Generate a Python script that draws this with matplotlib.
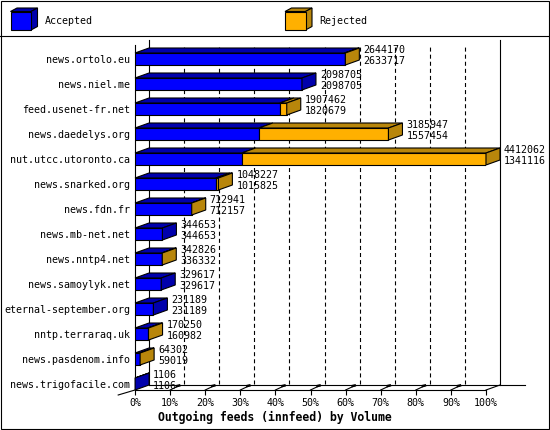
import numpy as np
import matplotlib
matplotlib.use('Agg')
import matplotlib.pyplot as plt
from matplotlib.patches import Polygon, Rectangle

plt.rcParams['font.family'] = ['DejaVu Sans Mono', 'DejaVu Sans']
plt.rcParams['lines.scale_dashes'] = False

# innfeed outgoing volume per peer
names = ['news.ortolo.eu', 'news.niel.me', 'feed.usenet-fr.net', 'news.daedelys.org',
         'nut.utcc.utoronto.ca', 'news.snarked.org', 'news.fdn.fr', 'news.mb-net.net',
         'news.nntp4.net', 'news.samoylyk.net', 'eternal-september.org',
         'nntp.terraraq.uk', 'news.pasdenom.info', 'news.trigofacile.com']
offered = [2644170, 2098705, 1907462, 3185947, 4412062, 1048227, 712941,
           344653, 342826, 329617, 231189, 170250, 64302, 1106]
accepted = [2633717, 2098705, 1820679, 1557454, 1341116, 1015825, 712157,
            344653, 336332, 329617, 231189, 160982, 59019, 1106]
tick_vals = list(range(0, 101, 10))
tick_labels = ['%d%%' % v for v in tick_vals]

BLUE, BLUE_D = '#0000FF', '#0000AC'
ORANGE, ORANGE_D = '#FFB000', '#B8860B'
FS = 7.2

W, H = 550, 430
fig = plt.figure(figsize=(W / 100, H / 100), dpi=100)
fig.set_facecolor('w')

# background layer in pixel units: frame, legend, separator
bg = fig.add_axes([0, 0, 1, 1], zorder=0)
bg.set_xlim(0, W)
bg.set_ylim(H, 0)
bg.axis('off')
bg.add_patch(Rectangle((0.5, 0.5), W - 1.5, H - 1.5, fill=False, lw=0.8, ec='k'))
bg.plot([0, W], [35.5, 35.5], color='k', lw=0.8)


def cube(x, y, w, h, d, e, front, shade):
    bg.add_patch(Polygon([(x, y), (x + w, y), (x + w + d, y - e), (x + d, y - e)],
                         closed=True, fc=shade, ec='k', lw=0.8))
    bg.add_patch(Polygon([(x + w, y), (x + w + d, y - e), (x + w + d, y + h - e), (x + w, y + h)],
                         closed=True, fc=shade, ec='k', lw=0.8))
    bg.add_patch(Rectangle((x, y), w, h, fc=front, ec='k', lw=0.8))


cube(10.5, 11.5, 20.5, 18.5, 6.5, 3.5, BLUE, BLUE_D)
bg.text(44.5, 21, 'Accepted', fontsize=FS, va='center', ha='left')
cube(285, 11.5, 20.5, 18.5, 6.5, 3.5, ORANGE, ORANGE_D)
bg.text(319, 21, 'Rejected', fontsize=FS, va='center', ha='left')

# main axes = front plane
ax = fig.add_axes([135 / W, (H - 390) / H, 351 / W, 345 / H], zorder=1)
ax.set_facecolor('none')
rows = np.arange(len(names))
YB, YT = 13.24, -0.56
ax.set_xlim(0, 100)
ax.set_ylim(YB, YT)

total = max(offered)
acc = np.array(accepted) / total * 100
off = np.array(offered) / total * 100
rej = off - acc

DX = 14 / (351 / 100)   # depth in % units
DY = 5 / 25             # depth in row units
HH = 0.24               # half height of bar front

# back plane
ax.plot([DX, DX], [YT - DY, YB - DY], color='k', lw=0.8, clip_on=False, zorder=1)
ax.plot([100 + DX, 100 + DX], [YT - DY, YB - DY], color='k', lw=0.8, clip_on=False, zorder=1)
ax.plot([DX, 111], [YB - DY, YB - DY], color='k', lw=0.8, clip_on=False, zorder=1)
ax.plot([100, 100 + DX], [YB, YB - DY], color='k', lw=0.8, clip_on=False, zorder=1)
ax.plot([0, -1.2 * DX], [YB, YB + DY], color='k', lw=0.8, clip_on=False, zorder=1)
for v in tick_vals[1:-1]:
    ax.plot([v + DX, v + DX], [YT - DY, YB - DY], color='k', lw=0.8,
            ls=(0, (2.9, 2.2)), zorder=1)
    ax.plot([v, v + 0.6 * DX], [YB, YB - 0.8 * DY], color='k', lw=0.8, clip_on=False, zorder=1)
    ax.plot([v + 0.5 * DX, v + 0.65 * DX], [YB - 0.8 * DY, YB - 0.9 * DY], color='k',
            lw=1.8, clip_on=False, zorder=1)

# bars: front faces
ax.barh(rows, acc, height=2 * HH, left=0, color=BLUE, edgecolor='k', lw=0.8, zorder=3)
m = rej > 0
ax.barh(rows[m], rej[m], height=2 * HH, left=acc[m], color=ORANGE, edgecolor='k',
        lw=0.8, zorder=3)

# top and side faces
for r, a, o in zip(rows, acc, off):
    top = r - HH
    segs = [(0, a, BLUE_D)]
    if o > a:
        segs.append((a, o, ORANGE_D))
    for x0, x1, c in segs:
        ax.add_patch(Polygon([(x0, top), (x1, top), (x1 + DX, top - DY), (x0 + DX, top - DY)],
                             closed=True, fc=c, ec='k', lw=0.8, zorder=3, clip_on=False))
    side = segs[-1][2]
    ax.add_patch(Polygon([(o, r + HH), (o, top), (o + DX, top - DY), (o + DX, r + HH - DY)],
                         closed=True, fc=side, ec='k', lw=0.8, zorder=3, clip_on=False))
    ax.text(o + DX + 1.14, r - 0.36, str(offered[r]), fontsize=FS, va='center', ha='left', zorder=4)
    ax.text(o + DX + 1.14, r + 0.07, str(accepted[r]), fontsize=FS, va='center', ha='left', zorder=4)

ax.set_xticks(tick_vals)
ax.set_xticklabels(tick_labels)
ax.set_yticks(rows)
ax.set_yticklabels(names)
ax.tick_params(axis='x', length=3.6, width=0.8, pad=2, labelsize=FS)
ax.tick_params(axis='y', length=0, pad=3.6, labelsize=FS)
for s in ['top', 'right']:
    ax.spines[s].set_visible(False)
for s in ['left', 'bottom']:
    ax.spines[s].set_linewidth(0.8)

fig.text(0.5, 1 - 417 / H, 'Outgoing feeds (innfeed) by Volume', ha='center', va='center',
         fontsize=8.3, fontweight='bold')

fig.savefig('out.png', dpi=100)
